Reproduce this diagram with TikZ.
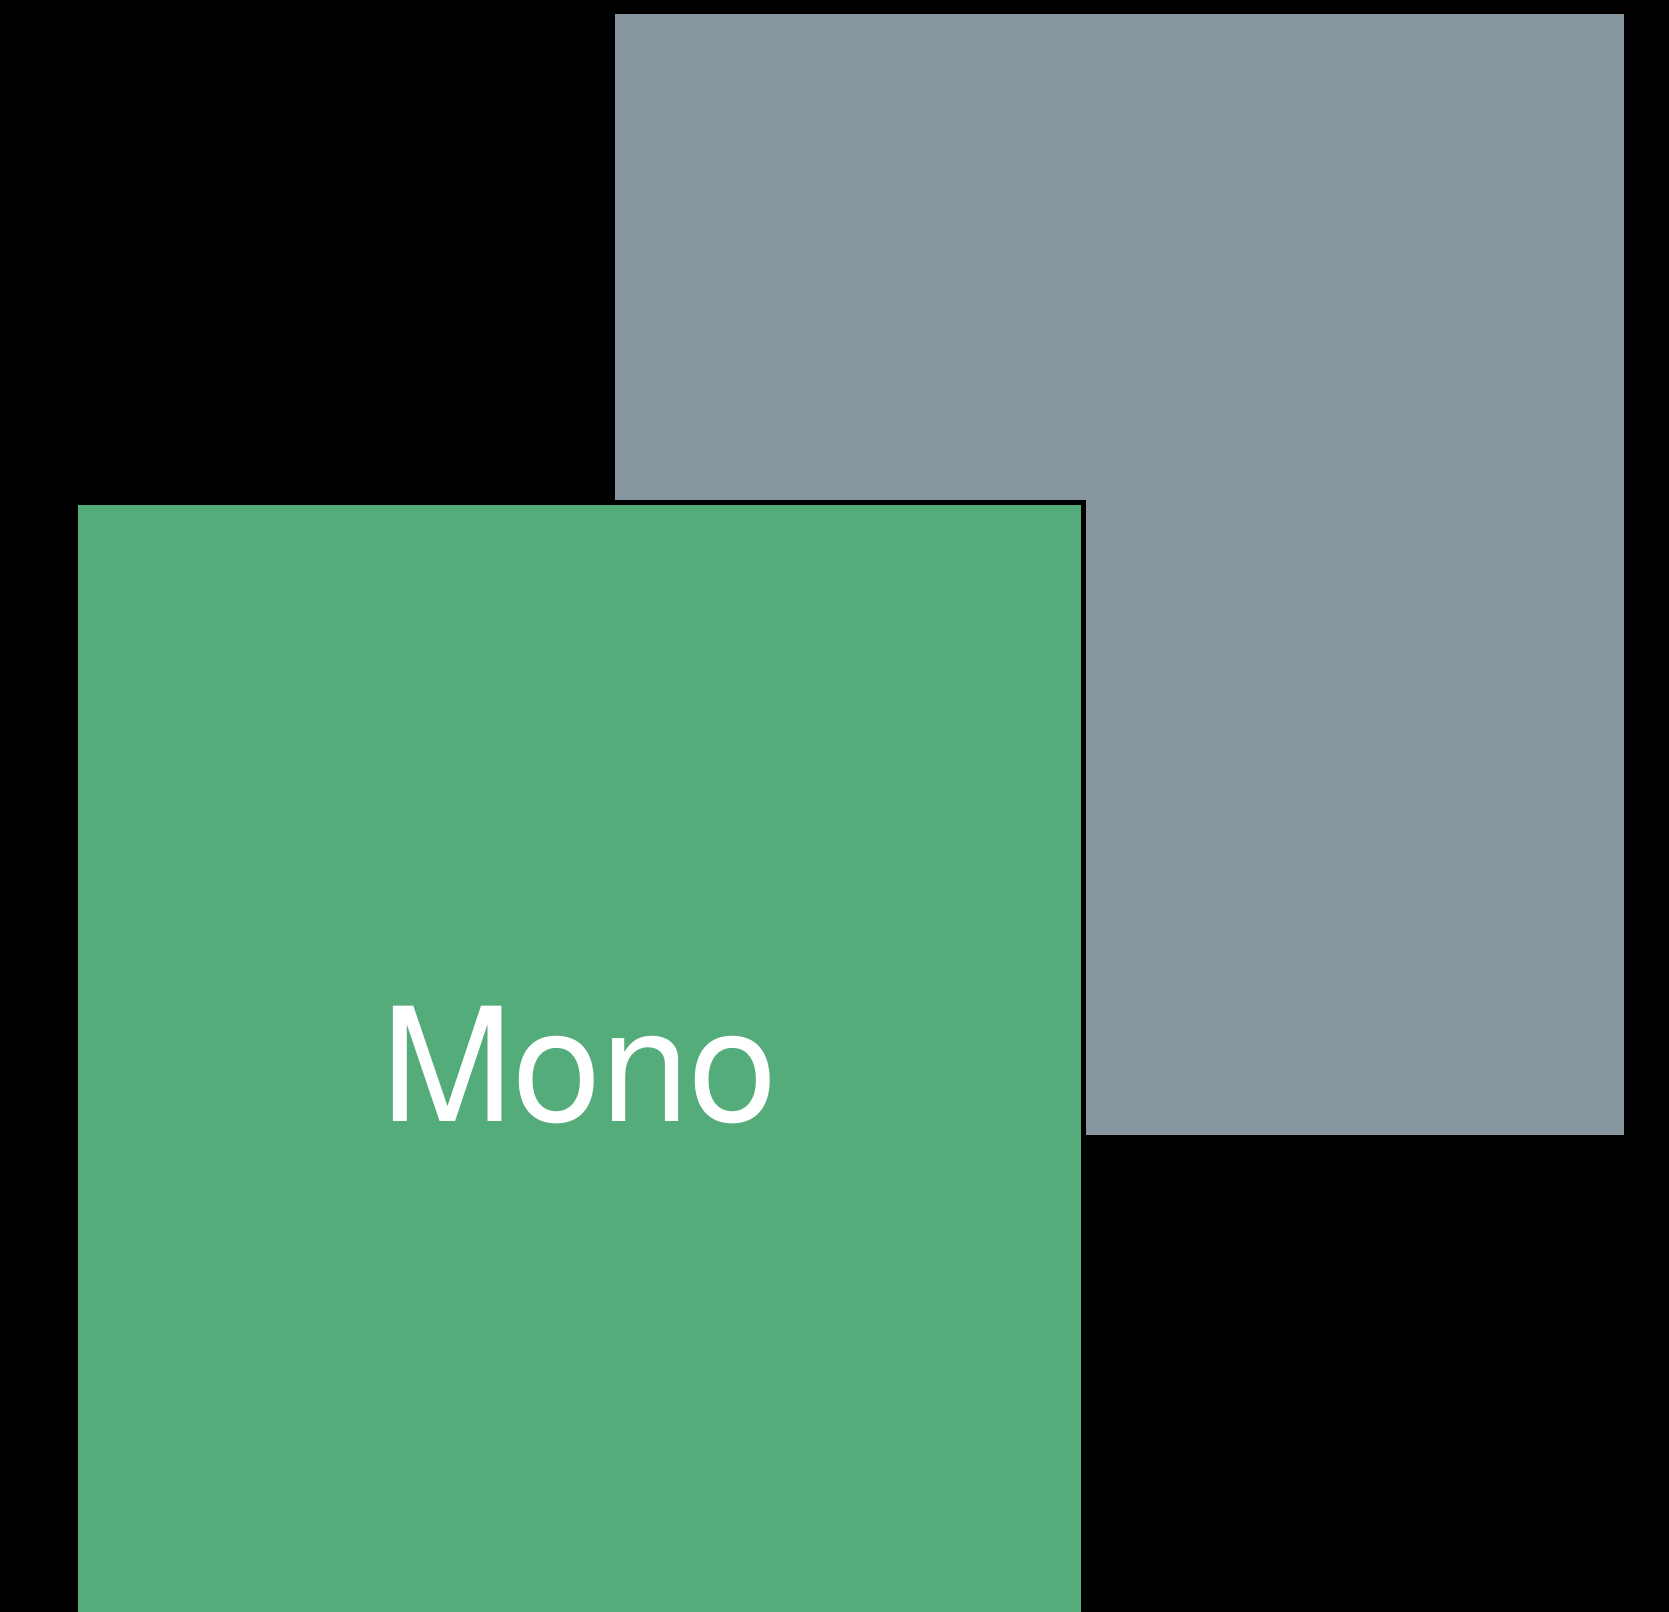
\documentclass[tikz,border=0pt]{standalone}
\usepackage{fontspec}
\setmainfont{TeX Gyre Heros}
\usepackage{xcolor}
\usepackage{tikz}
\definecolor{slate}{HTML}{87969F}
\definecolor{leaf}{HTML}{54AC7B}
\begin{document}
\begin{tikzpicture}[
  x=0.01cm, y=-0.01cm,
  pane/.style={inner sep=0pt, outer sep=0pt, anchor=north west,
               minimum width=10.08cm, minimum height=11.2cm},
  lbl/.style={text=white, font=\fontsize{45}{54}\selectfont}
]
\useasboundingbox (0,0) rectangle (1669,1612);
\fill[black] (0,0) rectangle (1669,1612);
\clip (0,0) rectangle (1669,1612);
\node[pane, fill=slate] (back) at (615,14) {};
\node[pane, fill=leaf, draw=black, line width=0.05cm,
      minimum width=10.07cm, minimum height=11.25cm, lbl] (front) at (75.5,502.5) {Mono};
\end{tikzpicture}
\end{document}
